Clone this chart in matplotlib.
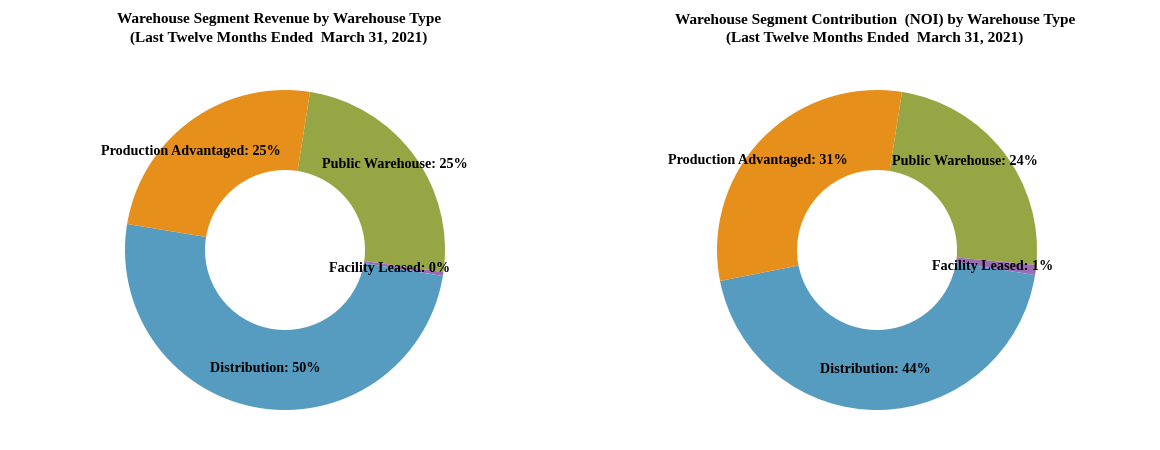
import matplotlib.pyplot as plt
import numpy as np

# Kategorien in Zeichenreihenfolge (im Uhrzeigersinn ab oben)
kategorien = ['Public Warehouse', 'Facility Leased', 'Distribution', 'Production Advantaged']
umsatz = [24.7, 0.4, 50.0, 24.9]
noi = [24.0, 1.0, 44.4, 30.6]
farben = ['#96a645', '#9b6db5', '#569bc0', '#e68f1b']

titel_links = 'Warehouse Segment Revenue by Warehouse Type\n(Last Twelve Months Ended  March 31, 2021)'
titel_rechts = 'Warehouse Segment Contribution  (NOI) by Warehouse Type\n(Last Twelve Months Ended  March 31, 2021)'

# radius der beschriftung je segment (anteil vom aussenradius) und winkelversatz
label_r_links = [0.873, 0.666, 0.748, 0.853]
label_r_rechts = [0.78, 0.73, 0.744, 0.934]
label_dwinkel_links = [1.3, -1.5, 0.0, 8.0]
label_dwinkel_rechts = [7.5, -0.7, -2.0, 7.0]

plt.rcParams['font.family'] = ['Liberation Serif', 'DejaVu Serif']
plt.rcParams['font.weight'] = 'bold'

fig = plt.figure(figsize=(11.6, 4.5), dpi=100)


def donut(ax, werte, radien, dwinkel):
    wedges, _ = ax.pie(werte, colors=farben, startangle=81, counterclock=False,
                       radius=1.0, wedgeprops=dict(width=0.5, linewidth=0))
    for w, name, wert, r, dw in zip(wedges, kategorien, werte, radien, dwinkel):
        mitte = np.deg2rad((w.theta1 + w.theta2) / 2 + dw)
        ax.text(r * np.cos(mitte), r * np.sin(mitte), '%s: %d%%' % (name, round(wert)),
                ha='center', va='center', fontsize=10.2, fontweight='bold')
    ax.set_xlim(-1, 1)
    ax.set_ylim(-1, 1)
    ax.set_aspect('equal')
    ax.axis('off')


ax1 = fig.add_axes([125 / 1160, 40 / 450, 320 / 1160, 320 / 450])
donut(ax1, umsatz, label_r_links, label_dwinkel_links)
ax2 = fig.add_axes([717 / 1160, 40 / 450, 320 / 1160, 320 / 450])
donut(ax2, noi, label_r_rechts, label_dwinkel_rechts)

fig.text(279 / 1160, 1 - 29 / 450, titel_links, ha='center', va='center',
         fontsize=11, fontweight='bold', linespacing=1.45)
fig.text(875 / 1160, 1 - 29 / 450, titel_rechts, ha='center', va='center',
         fontsize=11, fontweight='bold', linespacing=1.45)

fig.savefig('out.png', dpi=100)
